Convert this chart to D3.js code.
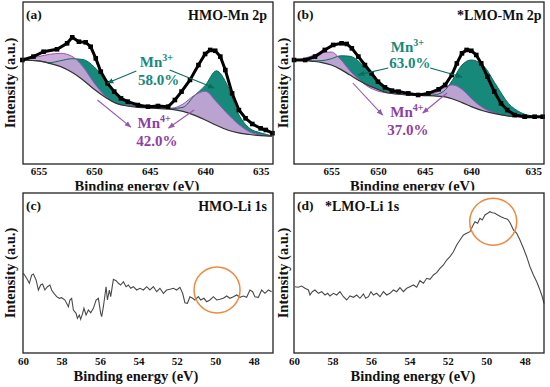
<!DOCTYPE html>
<html>
<head>
<meta charset="utf-8">
<script src="https://cdn.jsdelivr.net/npm/d3@7"></script>
<style>
  body { margin: 0; background: #fff; }
  svg { display: block; }
  svg text { font-family: "Liberation Serif", "Times New Roman", serif; font-weight: bold; }
</style>
</head>
<body>
<svg id="fig" width="550" height="387"></svg>
<script>
// ---- (a) HMO Mn 2p : measured points
var hmoMnEnergy = [656.46, 655.46, 654.55, 653.34, 652.43, 651.97, 651.37, 650.76, 650.31, 649.85, 649.4, 648.79, 648.19, 647.58, 646.97, 646.06, 645.15, 644.25, 643.34, 642.73, 642.13, 641.37, 640.61, 640.01, 639.55, 639.1, 638.64, 638.19, 637.58, 636.97, 636.37, 635.76, 635.01, 634.55, 633.95];
var hmoMnCounts = [64.2, 66.3, 69.3, 70.8, 74.5, 78.2, 75.5, 75.1, 72.4, 65.2, 57.0, 49.8, 44.7, 40.5, 38.5, 36.4, 35.4, 35.8, 35.4, 39.5, 44.7, 51.9, 61.1, 67.9, 70.4, 69.9, 66.3, 58.0, 43.6, 33.3, 28.2, 24.7, 22.0, 21.0, 19.0];
// (a) fitted background and components
var hmoFitEnergy = [656.4, 655, 654, 653, 652, 651, 650, 649, 648, 647, 646, 645, 644, 643, 642, 641, 640, 639, 638, 637, 636, 635, 634];
var hmoBackground = [64.2, 63.6, 62.1, 60.1, 56.6, 51.9, 46.1, 41.2, 37.4, 35.8, 35.0, 34.6, 34.2, 33.7, 32.5, 30.2, 27.2, 23.9, 21.0, 19.2, 18.2, 17.5, 17.2];
var hmoMn4 = [64.2, 66.3, 67.7, 68.3, 66.5, 60.0, 50.0, 42.0, 37.5, 36.0, 35.4, 35.4, 34.8, 34.5, 37.0, 42.3, 44.9, 38.5, 31.0, 24.5, 19.8, 17.9, 17.2];
var hmoMn3 = [64.2, 63.6, 62.6, 63.8, 65.0, 64.5, 60.0, 52.0, 43.0, 37.5, 35.4, 34.8, 34.4, 34.2, 35.0, 42.0, 48.5, 57.5, 48.5, 30.8, 22.0, 19.2, 17.4];

// ---- (b) *LMO Mn 2p : measured points
var lmoMnEnergy = [659.0, 657.8, 656.75, 655.7, 654.8, 653.9, 653.35, 652.8, 652.1, 651.4, 650.7, 650.0, 649.25, 648.5, 647.8, 646.75, 645.7, 644.6, 643.5, 642.8, 642.1, 641.55, 641.0, 640.5, 640.0, 639.6, 639.2, 638.7, 638.15, 637.6, 637.1, 636.5, 635.7, 634.9, 634.3];
var lmoMnCounts = [64.2, 64.2, 66.3, 70.4, 73.5, 74.5, 74.1, 71.4, 66.3, 61.1, 56.0, 50.8, 47.3, 45.3, 44.7, 43.6, 42.6, 43.6, 46.1, 48.8, 54.9, 62.1, 68.3, 70.4, 69.9, 67.3, 62.1, 53.9, 44.7, 37.4, 33.3, 30.2, 29.2, 29.2, 29.2];
var lmoFitEnergy = [659, 658, 657, 656, 655, 654, 653, 652, 651, 650, 649, 648, 647, 646, 645, 644, 643, 642, 641, 640, 639, 638, 637, 636, 635, 634.3];
var lmoBackground = [64.2, 64.0, 63.4, 62.6, 61.1, 58.4, 54.9, 51.4, 48.4, 46.1, 44.0, 43.2, 42.6, 42.4, 42.2, 42.0, 41.6, 40.1, 37.9, 35.4, 32.7, 30.9, 29.6, 29.2, 29.2, 29.2];
var lmoMn4 = [64.2, 65.0, 66.9, 68.7, 69.1, 64.5, 57.5, 52.0, 47.5, 45.0, 43.8, 43.2, 42.8, 42.8, 42.8, 43.6, 46.7, 48.8, 46.1, 40.5, 34.4, 31.3, 29.6, 29.2, 29.2, 29.2];
var lmoMn3 = [64.2, 64.0, 63.6, 63.8, 65.0, 66.8, 66.5, 63.0, 57.0, 51.0, 46.5, 44.0, 42.8, 42.4, 42.2, 42.6, 44.7, 51.9, 61.1, 64.2, 60.5, 48.8, 37.4, 31.7, 29.6, 29.2];

// ---- (c) HMO Li 1s
var hmoLiEnergy = [59.98, 59.81, 59.67, 59.55, 59.46, 59.32, 59.2, 59.08, 58.98, 58.86, 58.73, 58.6, 58.51, 58.39, 58.25, 58.11, 57.99, 57.82, 57.64, 57.56, 57.47, 57.38, 57.24, 57.17, 57.07, 57.0, 56.9, 56.83, 56.72, 56.6, 56.48, 56.34, 56.2, 56.08, 55.96, 55.91, 55.82, 55.68, 55.61, 55.51, 55.44, 55.3, 55.16, 55.04, 54.92, 54.78, 54.64, 54.52, 54.4, 54.26, 54.09, 53.92, 53.74, 53.57, 53.4, 53.22, 53.05, 52.88, 52.7, 52.53, 52.36, 52.18, 52.01, 51.84, 51.7, 51.58, 51.45, 51.32, 51.18, 51.06, 50.88, 50.76, 50.59, 50.45, 50.28, 50.1, 49.93, 49.76, 49.58, 49.41, 49.24, 49.06, 48.89, 48.72, 48.54, 48.37, 48.2, 48.06, 47.94, 47.76, 47.59, 47.42, 47.24, 47.07];
var hmoLiCounts = [79.7, 74.7, 69.7, 78.0, 79.0, 73.0, 63.0, 68.0, 69.0, 63.0, 66.3, 68.0, 63.0, 59.7, 56.3, 54.7, 55.3, 53.0, 46.3, 53.0, 54.7, 43.0, 39.7, 34.7, 38.0, 33.7, 39.7, 44.7, 38.0, 43.0, 40.3, 44.7, 53.0, 54.7, 39.7, 36.3, 46.3, 66.3, 53.0, 63.0, 56.3, 73.7, 72.3, 69.7, 68.0, 71.3, 66.3, 68.0, 64.7, 66.3, 63.0, 64.7, 63.0, 66.3, 63.0, 66.3, 61.3, 64.7, 59.7, 63.0, 63.7, 64.7, 63.0, 65.7, 59.7, 50.3, 49.7, 56.3, 54.7, 53.0, 56.3, 53.0, 54.7, 51.3, 53.0, 56.3, 53.0, 53.7, 54.7, 57.0, 54.7, 56.3, 58.0, 55.7, 57.0, 55.7, 63.0, 61.3, 56.3, 55.7, 63.0, 59.7, 63.0, 61.3];

// ---- (d) *LMO Li 1s
var lmoLiEnergy = [59.95, 59.77, 59.6, 59.43, 59.25, 59.17, 59.05, 58.91, 58.73, 58.56, 58.39, 58.25, 58.13, 57.95, 57.78, 57.61, 57.43, 57.26, 57.09, 56.91, 56.74, 56.57, 56.39, 56.27, 56.13, 56.0, 55.87, 55.7, 55.53, 55.35, 55.18, 55.01, 54.83, 54.66, 54.49, 54.31, 54.14, 53.97, 53.79, 53.62, 53.45, 53.27, 53.1, 52.93, 52.75, 52.58, 52.41, 52.23, 52.06, 51.89, 51.71, 51.54, 51.37, 51.19, 51.02, 50.85, 50.73, 50.59, 50.45, 50.33, 50.21, 50.07, 49.93, 49.81, 49.69, 49.55, 49.41, 49.24, 49.06, 48.89, 48.75, 48.59, 48.42, 48.25, 48.07, 47.9, 47.73, 47.55, 47.38, 47.21, 47.09, 47.0];
var lmoLiCounts = [66.3, 65.7, 67.0, 64.7, 63.0, 58.0, 61.3, 63.0, 59.7, 61.3, 58.0, 59.7, 57.0, 59.7, 58.0, 61.3, 56.3, 53.0, 57.0, 55.7, 58.0, 54.7, 59.0, 54.7, 56.3, 61.3, 58.0, 59.7, 56.3, 61.3, 58.0, 59.7, 63.0, 61.3, 65.3, 61.3, 64.7, 66.3, 68.0, 65.7, 72.3, 69.7, 74.7, 73.7, 78.0, 80.3, 84.7, 88.0, 93.0, 96.3, 101.3, 108.0, 113.0, 118.0, 119.7, 121.3, 126.3, 131.3, 129.7, 134.7, 133.0, 138.0, 139.7, 141.3, 140.3, 139.7, 138.0, 136.3, 134.7, 133.7, 129.7, 123.0, 119.7, 113.0, 104.7, 96.3, 86.3, 78.0, 71.3, 63.0, 56.3, 49.7];

var mnTicks = [655, 650, 645, 640, 635];
var liTicks = [60, 58, 56, 54, 52, 50, 48];

var teal = "#16897a", tealLine = "#0d6a5e", tealText = "#17897b";
var purpleFill = "#c9a4d8", purpleLine = "#9a55b4", purpleText = "#8e3fa6";
var serif = "Liberation Serif";

var svg = d3.select("#fig");
svg.append("rect").attr("width", 550).attr("height", 387).attr("fill", "#fff");

var defs = svg.append("defs");
// the lower panels cover the bottom of the upper axis titles
defs.append("clipPath").attr("id", "topClip")
  .append("rect").attr("x", 0).attr("y", 0).attr("width", 550).attr("height", 190.5);

function arrowMarker(id, color) {
  defs.append("marker")
    .attr("id", id)
    .attr("viewBox", "0 0 10 10")
    .attr("refX", 9).attr("refY", 5)
    .attr("markerWidth", 6).attr("markerHeight", 6)
    .attr("orient", "auto")
    .append("path").attr("d", "M0,1L10,5L0,9Z").attr("fill", color);
}
arrowMarker("arTeal", tealLine);
arrowMarker("arPurple", purpleLine);

function panel(cfg) {
  var g = svg.append("g");
  if (cfg.clip) g.attr("clip-path", "url(#topClip)");
  var x = cfg.x, y = cfg.y;
  var left = x.range()[0], right = x.range()[x.range().length - 1];
  var top = y.range()[1], bottom = y.range()[0];

  // bottom axis, labels only
  var ax = g.append("g")
    .attr("transform", "translate(0," + bottom + ")")
    .call(d3.axisBottom(x).tickValues(cfg.ticks).tickSize(0).tickPadding(cfg.tickPad));
  ax.select(".domain").remove();
  ax.attr("font-family", serif);
  ax.selectAll("text").style("font-size", "11px").attr("fill", "#111");

  g.append("text")
    .attr("x", cfg.titleX).attr("y", cfg.titleY)
    .attr("text-anchor", "middle")
    .style("font-size", "14.5px")
    .attr("fill", "#111")
    .text("Binding energy (eV)");

  g.append("text")
    .attr("transform", "translate(" + cfg.ylabX + "," + (top + bottom) / 2 + ") rotate(-90)")
    .attr("text-anchor", "middle")
    .style("font-size", "14.5px")
    .attr("fill", "#111")
    .text("Intensity (a.u.)");

  var plot = g.append("g");
  return { g: g, plot: plot, x: x, y: y, left: left, right: right, top: top, bottom: bottom };
}

function frame(p, tag, name, nameX, nameAnchor) {
  p.g.append("rect")
    .attr("x", p.left).attr("y", p.top)
    .attr("width", p.right - p.left).attr("height", p.bottom - p.top)
    .attr("fill", "none").attr("stroke", "#222").attr("stroke-width", 1.3);
  p.g.append("text")
    .attr("x", p.left + 3).attr("y", p.top + 17)
    .style("font-size", "13.5px")
    .attr("fill", "#111").text(tag);
  p.g.append("text")
    .attr("x", nameX).attr("y", p.top + 17.5)
    .attr("text-anchor", nameAnchor)
    .style("font-size", "14px")
    .attr("fill", "#111").text(name);
}

function fitPanel(p, fitE, bg, mn3, mn4, dataE, dataV) {
  var x = p.x, y = p.y;
  var fit = fitE.map(function (e, i) {
    return { e: e, bg: bg[i], mn3: mn3[i], mn4: mn4[i] };
  });
  var area3 = d3.area().x(function (d) { return x(d.e); })
    .y0(function (d) { return y(d.bg); }).y1(function (d) { return y(d.mn3); })
    .curve(d3.curveMonotoneX);
  var area4 = d3.area().x(function (d) { return x(d.e); })
    .y0(function (d) { return y(d.bg); }).y1(function (d) { return y(d.mn4); })
    .curve(d3.curveMonotoneX);
  var lineOf = function (key) {
    return d3.line().x(function (d) { return x(d.e); })
      .y(function (d) { return y(d[key]); }).curve(d3.curveMonotoneX);
  };

  p.plot.append("path").datum(fit).attr("d", area3).attr("fill", teal);
  p.plot.append("path").datum(fit).attr("d", area4).attr("fill", purpleFill).attr("opacity", 0.92);
  p.plot.append("path").datum(fit).attr("d", lineOf("mn3"))
    .attr("fill", "none").attr("stroke", tealLine).attr("stroke-width", 1);
  p.plot.append("path").datum(fit).attr("d", lineOf("mn4"))
    .attr("fill", "none").attr("stroke", purpleLine).attr("stroke-width", 1);
  p.plot.append("path").datum(fit).attr("d", lineOf("bg"))
    .attr("fill", "none").attr("stroke", "#333").attr("stroke-width", 1.2);

  var pts = d3.zip(dataE, dataV);
  p.plot.append("path").datum(pts)
    .attr("d", d3.line().x(function (d) { return x(d[0]); }).y(function (d) { return y(d[1]); }))
    .attr("fill", "none").attr("stroke", "#000").attr("stroke-width", 3);
  p.plot.selectAll("rect.pt").data(pts).join("rect")
    .attr("class", "pt")
    .attr("x", function (d) { return x(d[0]) - 2.3; })
    .attr("y", function (d) { return y(d[1]) - 2.3; })
    .attr("width", 4.6).attr("height", 4.6).attr("fill", "#000");
}

function note(p, lab) {
  var t = p.g.append("text")
    .attr("x", p.x(lab.e)).attr("y", p.y(lab.v))
    .attr("text-anchor", "middle")
    .style("font-size", "15px")
    .attr("fill", lab.color);
  t.append("tspan").text(lab.text);
  if (lab.sup) t.append("tspan").attr("dy", -6).style("font-size", "10px").text(lab.sup);
}

function arrow(p, a, color, marker) {
  p.g.append("line")
    .attr("x1", p.x(a[0])).attr("y1", p.y(a[1]))
    .attr("x2", p.x(a[2])).attr("y2", p.y(a[3]))
    .attr("stroke", color).attr("stroke-width", 1.1)
    .attr("marker-end", "url(#" + marker + ")");
}

function liPanel(p, dataE, dataV, ring) {
  var x = p.x, y = p.y;
  p.plot.append("path").datum(d3.zip(dataE, dataV))
    .attr("d", d3.line().x(function (d) { return x(d[0]); }).y(function (d) { return y(d[1]); }))
    .attr("fill", "none").attr("stroke", "#4a4a4a").attr("stroke-width", 1.1);
  p.g.append("circle")
    .attr("cx", x(ring.e)).attr("cy", y(ring.v)).attr("r", ring.r)
    .attr("fill", "none").attr("stroke", "#f0883e").attr("stroke-width", 1.5);
}

// ---------- (a)
var pa = panel({
  x: d3.scaleLinear().domain([656.4, 633.9]).range([23, 273]),
  y: d3.scaleLinear().domain([0, 100]).range([164, 2]),
  ticks: mnTicks, tickPad: 3.5, titleX: 137, titleY: 191, ylabX: 15, clip: true
});
fitPanel(pa, hmoFitEnergy, hmoBackground, hmoMn3, hmoMn4, hmoMnEnergy, hmoMnCounts);
frame(pa, "(a)", "HMO-Mn 2p", 267, "end");
arrow(pa, [646.2, 57.4, 648.8, 50.0], tealLine, "arTeal");
arrow(pa, [643.2, 58.0, 639.2, 46.9], tealLine, "arTeal");
arrow(pa, [649.7, 39.5, 646.7, 22.8], purpleLine, "arPurple");
arrow(pa, [641.0, 33.3, 643.3, 22.2], purpleLine, "arPurple");
note(pa, { text: "Mn", sup: "3+", e: 644.4, v: 59.9, color: tealText });
note(pa, { text: "58.0%", e: 644.2, v: 48.8, color: tealText });
note(pa, { text: "Mn", sup: "4+", e: 644.6, v: 22.2, color: purpleText });
note(pa, { text: "42.0%", e: 644.35, v: 11.1, color: purpleText });

// ---------- (b)
var pb = panel({
  x: d3.scaleLinear().domain([659, 640, 635, 634.2]).range([294, 471.3, 533.3, 544]),
  y: d3.scaleLinear().domain([0, 100]).range([164, 2]),
  ticks: mnTicks, tickPad: 3.5, titleX: 412.5, titleY: 191, ylabX: 288, clip: true
});
fitPanel(pb, lmoFitEnergy, lmoBackground, lmoMn3, lmoMn4, lmoMnEnergy, lmoMnCounts);
frame(pb, "(b)", "*LMO-Mn 2p", 541.5, "end");
arrow(pb, [648.9, 59.3, 652.1, 55.0], tealLine, "arTeal");
arrow(pb, [644.4, 59.3, 641.0, 53.7], tealLine, "arTeal");
arrow(pb, [652.7, 50.0, 649.5, 30.2], purpleLine, "arPurple");
arrow(pb, [642.6, 43.8, 645.2, 31.5], purpleLine, "arPurple");
note(pb, { text: "Mn", sup: "3+", e: 646.84, v: 69.4, color: tealText });
note(pb, { text: "63.0%", e: 646.57, v: 59.0, color: tealText });
note(pb, { text: "Mn", sup: "4+", e: 646.9, v: 29.3, color: purpleText });
note(pb, { text: "37.0%", e: 646.8, v: 17.9, color: purpleText });

// ---------- (c)
var pc = panel({
  x: d3.scaleLinear().domain([60, 47]).range([23, 273]),
  y: d3.scaleLinear().domain([0, 160]).range([353, 193]),
  ticks: liTicks, tickPad: 4.5, titleX: 136, titleY: 381, ylabX: 15, clip: false
});
liPanel(pc, hmoLiEnergy, hmoLiCounts, { e: 49.91, v: 63, r: 23 });
frame(pc, "(c)", "HMO-Li 1s", 267, "end");

// ---------- (d)
var pd = panel({
  x: d3.scaleLinear().domain([60, 47]).range([294, 544]),
  y: d3.scaleLinear().domain([0, 160]).range([353, 193]),
  ticks: liTicks, tickPad: 4.5, titleX: 413, titleY: 381, ylabX: 288, clip: false
});
liPanel(pd, lmoLiEnergy, lmoLiCounts, { e: 49.64, v: 131.3, r: 23.5 });
frame(pd, "(d)", "*LMO-Li 1s", 325, "start");
</script>
</body>
</html>
